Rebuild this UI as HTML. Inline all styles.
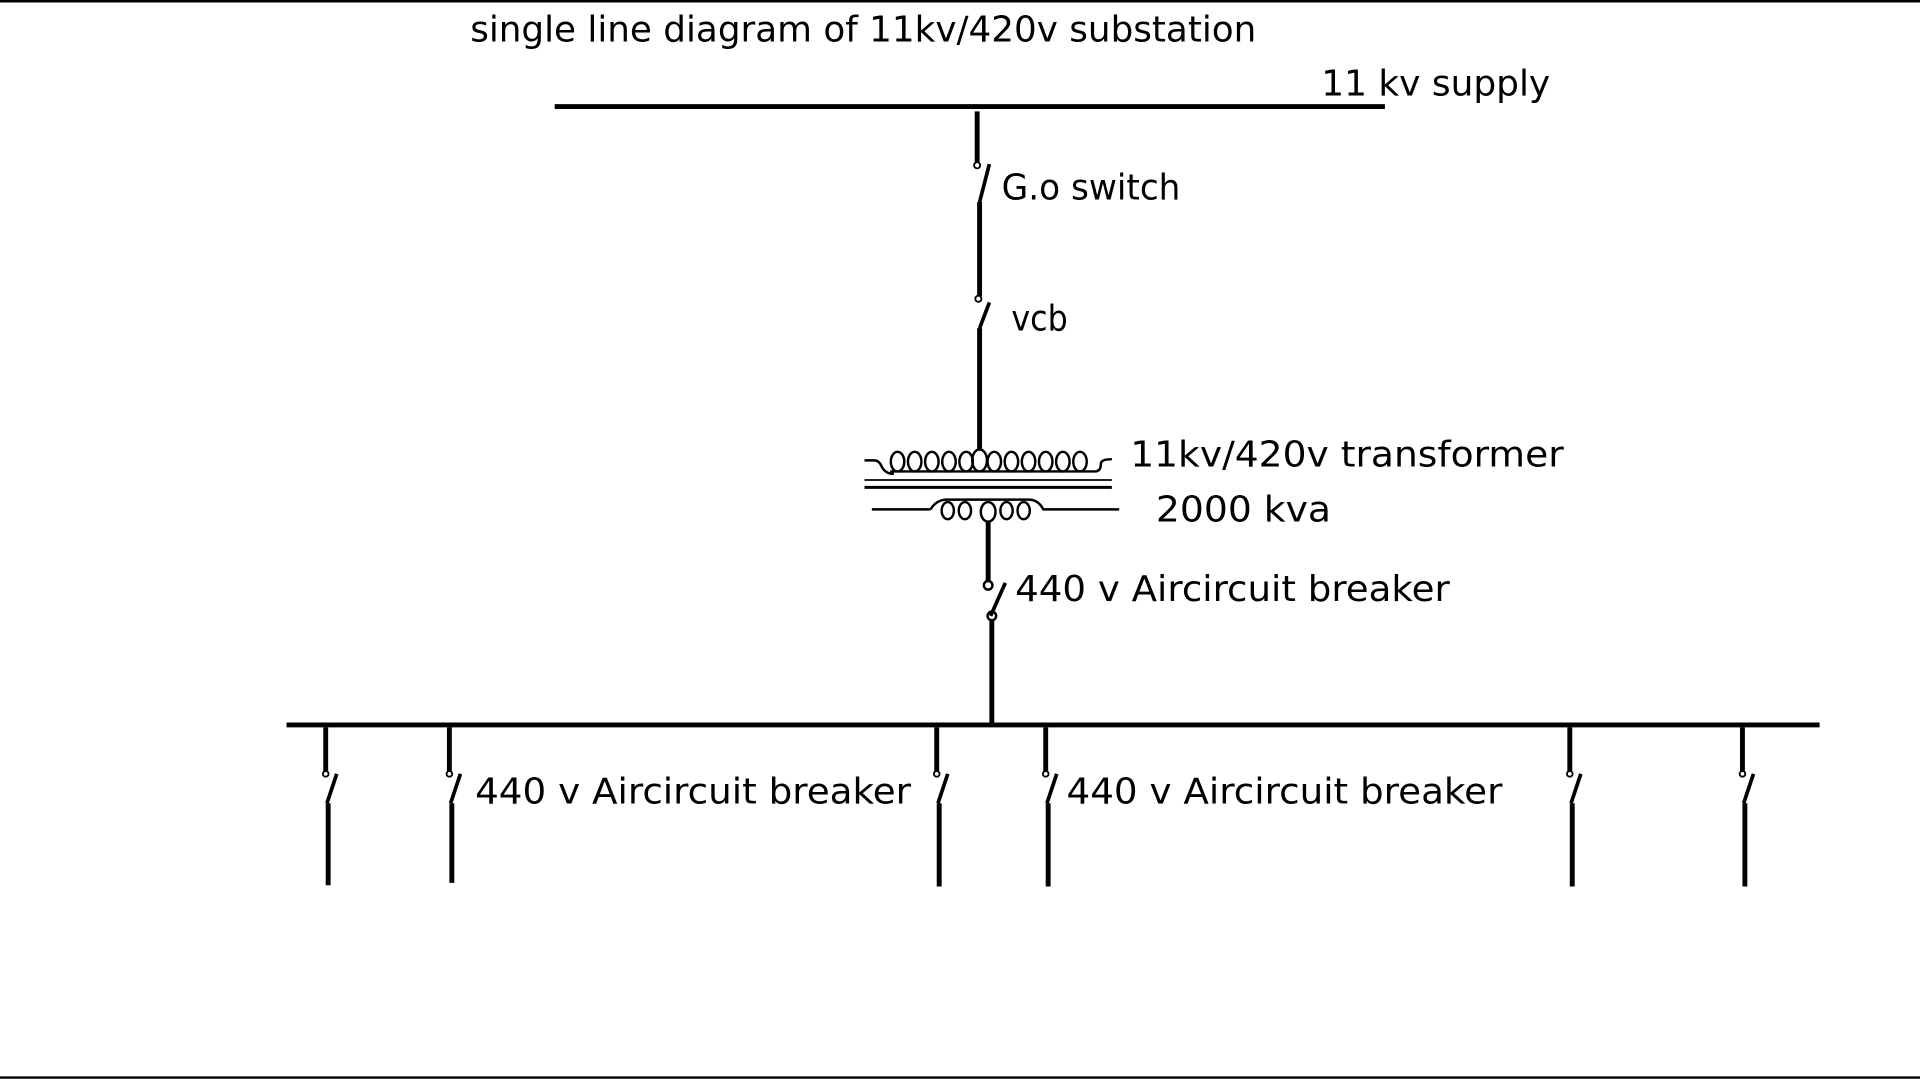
<!DOCTYPE html>
<html><head><meta charset="utf-8"><style>
html,body{margin:0;padding:0;background:#fff;width:1920px;height:1080px;overflow:hidden}
svg{display:block}
text{font-family:"DejaVu Sans","Liberation Sans",sans-serif;font-size:29px;fill:#000}
</style></head><body>
<svg width="1920" height="1080" viewBox="0 0 1568 882" xmlns="http://www.w3.org/2000/svg">
<rect width="1568" height="882" fill="#fff"/>
<line x1="0" y1="1" x2="1568" y2="1" stroke="#000" stroke-width="2"/>
<line x1="0" y1="880" x2="1568" y2="880" stroke="#000" stroke-width="2"/>

<text x="384" y="34" textLength="642" lengthAdjust="spacingAndGlyphs">single line diagram of 11kv/420v substation</text>
<text x="1079" y="78" textLength="187" lengthAdjust="spacingAndGlyphs">11 kv supply</text>
<text x="818" y="163" textLength="146" lengthAdjust="spacingAndGlyphs">G.o switch</text>
<text x="826" y="270" textLength="46" lengthAdjust="spacingAndGlyphs">vcb</text>
<text x="923" y="381" textLength="354" lengthAdjust="spacingAndGlyphs">11kv/420v transformer</text>
<text x="944" y="426" textLength="143" lengthAdjust="spacingAndGlyphs">2000 kva</text>
<text x="829" y="491" textLength="355" lengthAdjust="spacingAndGlyphs">440 v Aircircuit breaker</text>
<text x="388" y="656" textLength="356" lengthAdjust="spacingAndGlyphs">440 v Aircircuit breaker</text>
<text x="871" y="656" textLength="356" lengthAdjust="spacingAndGlyphs">440 v Aircircuit breaker</text>

<g stroke="#000" fill="none" stroke-linecap="butt">
<!-- 11kv bus -->
<line x1="453" y1="87" x2="1131" y2="87" stroke-width="4"/>
<!-- G.o switch -->
<line x1="798" y1="91" x2="798" y2="133" stroke-width="4"/>
<circle cx="798" cy="135" r="2.5" stroke-width="1.5"/>
<line x1="800" y1="165" x2="808" y2="134" stroke-width="3"/>
<line x1="800" y1="165" x2="800" y2="242" stroke-width="4"/>
<!-- vcb -->
<circle cx="799" cy="244" r="2.5" stroke-width="1.5"/>
<line x1="800" y1="268" x2="808" y2="247" stroke-width="3"/>
<line x1="800" y1="268" x2="800" y2="368" stroke-width="4"/>
<!-- transformer primary -->
<path d="M706 376 h8 q4 0 6 5 q3 6 10 6" stroke-width="2"/>
<g stroke-width="2">
<ellipse cx="733" cy="377" rx="5.5" ry="8"/><ellipse cx="747" cy="377" rx="5.5" ry="8"/>
<ellipse cx="761" cy="377" rx="5.5" ry="8"/><ellipse cx="775" cy="377" rx="5.5" ry="8"/>
<ellipse cx="789" cy="377" rx="5.5" ry="8"/><ellipse cx="800" cy="376" rx="6" ry="9"/>
<ellipse cx="812" cy="377" rx="5.5" ry="8"/><ellipse cx="826" cy="377" rx="5.5" ry="8"/>
<ellipse cx="840" cy="377" rx="5.5" ry="8"/><ellipse cx="854" cy="377" rx="5.5" ry="8"/>
<ellipse cx="868" cy="377" rx="5.5" ry="8"/><ellipse cx="882" cy="377" rx="5.5" ry="8"/>
<path d="M727 385 H894 q5 0 5 -6 q0 -4 9 -4"/>
</g>
<line x1="706" y1="392" x2="908" y2="392" stroke-width="1.5"/>
<line x1="706" y1="398" x2="908" y2="398" stroke-width="2.5"/>
<!-- secondary -->
<line x1="712" y1="416" x2="760" y2="416" stroke-width="2"/>
<g stroke-width="2">
<ellipse cx="774" cy="417" rx="5" ry="7"/><ellipse cx="788" cy="417" rx="5" ry="7"/>
<ellipse cx="807" cy="418" rx="6" ry="8"/><ellipse cx="822" cy="417" rx="5" ry="7"/>
<ellipse cx="836" cy="417" rx="5" ry="7"/>
<path d="M760 416 q4 -7 12 -8 H840 q8 0 12 8 H914"/>
</g>
<line x1="807" y1="426" x2="807" y2="475" stroke-width="4"/>
<circle cx="807" cy="478" r="3.5" stroke-width="2"/>
<line x1="809" y1="503" x2="821" y2="476" stroke-width="3"/>
<circle cx="810" cy="503" r="3.5" stroke-width="2"/>
<line x1="810" y1="507" x2="810" y2="590" stroke-width="4"/>
<!-- LV bus -->
<line x1="234" y1="592" x2="1486" y2="592" stroke-width="4"/>
<!-- feeders -->
<g id="f">
</g>
</g>
<g stroke="#000" fill="none">
<!-- helper feeders -->
<g transform="translate(266,0)"><line x1="0" y1="594" x2="0" y2="630" stroke-width="4"/><circle cx="0" cy="632" r="2.3" stroke-width="1.5"/><line x1="1" y1="656" x2="9" y2="632" stroke-width="3"/><line x1="2" y1="656" x2="2" y2="723" stroke-width="4"/></g>
<g transform="translate(367,0)"><line x1="0" y1="594" x2="0" y2="630" stroke-width="4"/><circle cx="0" cy="632" r="2.3" stroke-width="1.5"/><line x1="1" y1="656" x2="9" y2="632" stroke-width="3"/><line x1="2" y1="656" x2="2" y2="721" stroke-width="4"/></g>
<g transform="translate(765,0)"><line x1="0" y1="594" x2="0" y2="630" stroke-width="4"/><circle cx="0" cy="632" r="2.3" stroke-width="1.5"/><line x1="1" y1="656" x2="9" y2="632" stroke-width="3"/><line x1="2" y1="656" x2="2" y2="724" stroke-width="4"/></g>
<g transform="translate(854,0)"><line x1="0" y1="594" x2="0" y2="630" stroke-width="4"/><circle cx="0" cy="632" r="2.3" stroke-width="1.5"/><line x1="1" y1="656" x2="9" y2="632" stroke-width="3"/><line x1="2" y1="656" x2="2" y2="724" stroke-width="4"/></g>
<g transform="translate(1282,0)"><line x1="0" y1="594" x2="0" y2="630" stroke-width="4"/><circle cx="0" cy="632" r="2.3" stroke-width="1.5"/><line x1="1" y1="656" x2="9" y2="632" stroke-width="3"/><line x1="2" y1="656" x2="2" y2="724" stroke-width="4"/></g>
<g transform="translate(1423,0)"><line x1="0" y1="594" x2="0" y2="630" stroke-width="4"/><circle cx="0" cy="632" r="2.3" stroke-width="1.5"/><line x1="1" y1="656" x2="9" y2="632" stroke-width="3"/><line x1="2" y1="656" x2="2" y2="724" stroke-width="4"/></g>
</g>
</svg>
</body></html>
